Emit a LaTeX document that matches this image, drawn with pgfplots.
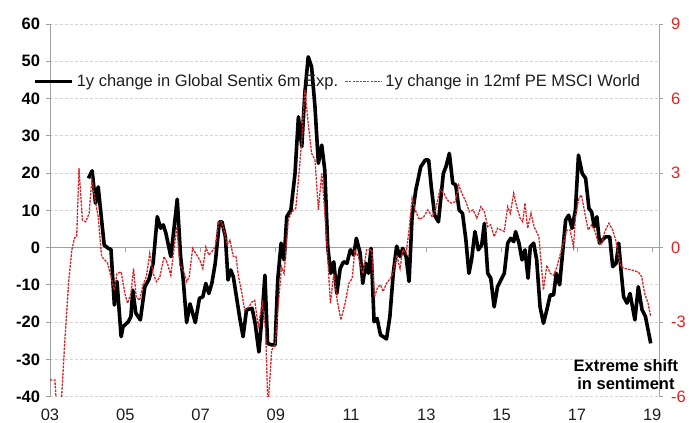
\documentclass[border=0pt]{standalone}
\usepackage{fontspec}
\setmainfont{Liberation Sans}
\usepackage{pgfplots}
\pgfplotsset{compat=1.18}

\definecolor{axisgray}{RGB}{160,160,160}
\definecolor{gridgray}{RGB}{212,212,212}
\definecolor{redline}{RGB}{214,36,40}
\definecolor{redlab}{RGB}{232,32,32}
\definecolor{txt}{RGB}{30,30,30}

\newcommand{\fs}{\fontsize{16.5}{19}\selectfont}

% 1y change in Global Sentix 6m Exp. (left axis)
\pgfplotstableread{
x y
2004.02 18.6
2004.12 20.6
2004.21 11.9
2004.28 16.3
2004.44 0.7
2004.55 -0.2
2004.62 -0.5
2004.71 -15.4
2004.78 -9.1
2004.89 -23.9
2004.94 -21.2
2005.08 -19.9
2005.15 -18.5
2005.20 -11.4
2005.28 -17.6
2005.40 -19.4
2005.52 -10.5
2005.63 -8.5
2005.74 -4.2
2005.85 8.3
2005.94 5.2
2006.01 6.1
2006.08 3.8
2006.21 -2.4
2006.29 4.7
2006.38 13.0
2006.47 -2.4
2006.54 -8.7
2006.63 -20.1
2006.72 -15.1
2006.86 -20.1
2006.97 -13.6
2007.06 -13.2
2007.14 -9.6
2007.22 -12.3
2007.30 -9.6
2007.39 -4.2
2007.50 6.9
2007.57 6.9
2007.66 2.9
2007.73 -8.7
2007.80 -6.0
2007.87 -7.8
2008.05 -19.4
2008.13 -23.9
2008.22 -16.7
2008.37 -16.3
2008.45 -20.3
2008.55 -28.0
2008.64 -17.6
2008.71 -7.4
2008.78 -25.7
2008.89 -26.1
2008.98 -26.1
2009.05 -8.7
2009.14 1.2
2009.22 -3.3
2009.29 8.3
2009.40 10.1
2009.51 19.9
2009.60 35.1
2009.69 27.1
2009.77 41.4
2009.86 51.2
2009.95 48.5
2010.04 37.8
2010.13 22.6
2010.22 27.5
2010.30 20.8
2010.38 0.2
2010.46 -6.9
2010.54 -3.8
2010.62 -12.3
2010.71 -5.6
2010.80 -3.8
2010.89 -4.2
2010.98 -0.6
2011.07 -2.0
2011.14 2.5
2011.24 -1.5
2011.31 -9.6
2011.39 -4.2
2011.46 -6.9
2011.53 -0.2
2011.61 -19.9
2011.69 -19.0
2011.78 -23.4
2011.94 -24.5
2012.03 -18.5
2012.12 -6.9
2012.21 0.4
2012.30 -2.4
2012.37 -0.2
2012.46 -2.4
2012.54 -9.1
2012.62 8.3
2012.72 15.5
2012.85 21.7
2012.97 23.5
2013.06 23.5
2013.13 16.3
2013.22 8.7
2013.32 6.9
2013.45 19.9
2013.52 21.7
2013.61 25.3
2013.70 17.3
2013.78 16.8
2013.87 10.1
2013.96 9.2
2014.05 2.0
2014.13 -6.9
2014.20 -3.3
2014.29 4.3
2014.38 -0.6
2014.47 0.7
2014.54 6.5
2014.63 -6.9
2014.71 -8.2
2014.80 -15.9
2014.89 -10.5
2014.98 -8.7
2015.07 -6.9
2015.16 1.2
2015.24 2.5
2015.32 1.6
2015.37 4.3
2015.46 1.2
2015.54 -3.3
2015.62 -0.6
2015.70 -8.2
2015.76 0.2
2015.85 1.2
2015.93 -3.3
2016.02 -15.9
2016.11 -20.3
2016.20 -16.7
2016.29 -12.7
2016.38 -12.7
2016.45 -6.9
2016.54 -10.0
2016.63 -0.2
2016.70 7.4
2016.78 8.7
2016.87 5.2
2016.96 10.1
2017.04 24.8
2017.14 19.9
2017.23 18.6
2017.32 10.5
2017.39 9.6
2017.46 5.6
2017.53 8.3
2017.60 1.2
2017.67 2.0
2017.76 2.9
2017.87 2.9
2017.95 -5.1
2018.04 -4.2
2018.11 1.2
2018.17 -6.0
2018.24 -13.2
2018.33 -14.9
2018.41 -12.3
2018.54 -19.4
2018.63 -10.5
2018.73 -16.7
2018.82 -18.5
2018.96 -25.7
}\sentix

% 1y change in 12mf PE MSCI World (right axis)
\pgfplotstableread{
x y
2003.00 -5.33
2003.13 -5.33
2003.18 -6.5
2003.29 -6.5
2003.40 -3.59
2003.50 -1.31
2003.58 -0.09
2003.65 0.38
2003.71 0.47
2003.77 3.20
2003.86 1.11
2003.95 1.04
2004.04 1.38
2004.11 2.72
2004.20 1.92
2004.28 1.25
2004.37 -0.36
2004.46 -0.50
2004.53 -0.63
2004.62 -1.17
2004.71 -1.71
2004.78 -1.04
2004.89 -0.98
2004.99 -1.85
2005.06 -2.24
2005.15 -1.85
2005.22 -0.84
2005.29 -1.98
2005.38 -2.12
2005.47 -1.50
2005.56 -1.17
2005.65 -0.23
2005.74 -1.04
2005.83 -1.37
2005.92 -1.17
2006.03 -0.36
2006.12 -0.63
2006.21 -1.11
2006.29 -0.09
2006.37 0.84
2006.45 -0.71
2006.54 -0.90
2006.63 -1.37
2006.70 -1.17
2006.79 -0.03
2006.90 -0.30
2006.98 -0.50
2007.06 -0.84
2007.14 0.03
2007.22 -0.30
2007.30 -0.17
2007.39 0.03
2007.48 1.04
2007.55 1.04
2007.62 0.71
2007.71 0.11
2007.78 0.30
2007.87 -0.36
2007.94 -0.35
2008.01 -1.17
2008.10 -1.85
2008.17 -2.51
2008.28 -2.39
2008.37 -2.18
2008.44 -2.12
2008.53 -3.18
2008.64 -2.24
2008.73 -3.32
2008.79 -6.5
2008.89 -4.13
2008.98 -3.92
2009.06 -2.39
2009.15 -0.77
2009.22 -1.04
2009.33 1.11
2009.42 1.44
2009.53 1.58
2009.60 2.72
2009.69 4.34
2009.77 6.35
2009.86 5.01
2009.95 3.80
2010.04 3.53
2010.13 1.52
2010.22 2.99
2010.29 1.65
2010.36 0.03
2010.45 -2.24
2010.54 -1.04
2010.63 -2.12
2010.73 -2.91
2010.84 -2.24
2010.94 -1.44
2011.03 -1.23
2011.10 -0.09
2011.19 -0.36
2011.28 -0.90
2011.32 -1.04
2011.41 -0.09
2011.55 -0.09
2011.62 -1.98
2011.71 -1.58
2011.78 -1.50
2011.85 -1.77
2011.94 -1.44
2012.05 -1.23
2012.12 -0.98
2012.21 -0.30
2012.30 -0.84
2012.37 -0.09
2012.46 -0.23
2012.54 0.71
2012.62 1.98
2012.70 1.52
2012.81 1.14
2012.92 1.22
2013.04 1.52
2013.15 1.25
2013.23 1.44
2013.36 2.33
2013.47 2.19
2013.55 1.92
2013.66 1.79
2013.77 1.85
2013.86 2.52
2013.94 2.19
2014.05 1.85
2014.14 1.44
2014.24 1.52
2014.34 1.19
2014.45 1.65
2014.54 1.44
2014.63 0.84
2014.71 0.92
2014.80 0.44
2014.89 0.78
2014.98 0.71
2015.07 0.65
2015.16 1.65
2015.23 1.38
2015.32 2.19
2015.40 1.65
2015.49 1.19
2015.56 1.04
2015.62 1.79
2015.69 0.78
2015.78 1.38
2015.86 0.84
2015.99 0.44
2016.11 -1.71
2016.20 -0.71
2016.29 -1.04
2016.38 -1.11
2016.47 -0.77
2016.55 -0.30
2016.64 0.18
2016.73 0.71
2016.82 0.71
2016.91 0.03
2016.96 1.25
2017.05 1.98
2017.12 2.12
2017.21 1.38
2017.30 0.71
2017.39 0.92
2017.48 0.65
2017.56 0.24
2017.65 0.11
2017.74 0.65
2017.85 0.98
2017.95 0.71
2018.03 0.30
2018.09 -0.23
2018.17 -0.77
2018.27 -0.84
2018.45 -0.90
2018.63 -0.98
2018.72 -1.17
2018.80 -1.85
2018.89 -2.24
2018.96 -2.78
}\msci

\pgfplotsset{
  base/.style={
    at={(0,0)}, anchor=south west,
    scale only axis, width=609pt, height=372.7pt,
    xmin=2003, xmax=2019.18,
    /pgf/number format/assume math mode=true,
    tick align=outside, major tick length=4.5pt,
    clip mode=individual,
  },
}

\begin{document}
\begin{tikzpicture}
% left axis: Sentix
\begin{axis}[base,
    name=ax,
    ymin=-40, ymax=60,
    axis y line*=left, axis x line*=bottom,
    x axis line style={draw=none},
    y axis line style={draw=axisgray, line width=0.8pt},
    xtick={2003,2005,...,2019},
    xticklabels={03,05,07,09,11,13,15,17,19},
    major x tick style={draw=none},
    xticklabel style={font=\fs, text=txt, yshift=-4pt},
    ytick={-40,-30,...,60},
    major y tick style={draw=axisgray, line width=0.8pt},
    yticklabel style={font=\fs\bfseries, text=black, xshift=-2pt},
    ymajorgrids,
    major grid style={draw=gridgray, dash pattern=on 3pt off 2pt, line width=0.8pt},
]
\draw[axisgray, line width=0.8pt] (rel axis cs:0,0.4) -- (rel axis cs:1,0.4);
\pgfplotsinvokeforeach{2005,2007,2009,2011,2013,2015,2017,2019}{
  \draw[axisgray, line width=0.8pt] (axis cs:#1,0) -- ++(0pt,-4.5pt);
}
\addplot[black, line width=3.6pt, line join=round] table[x=x,y=y] {\sentix};
\end{axis}

% right axis: MSCI World 12mf PE
\begin{axis}[base,
    ymin=-6, ymax=9,
    axis y line*=right, axis x line=none,
    y axis line style={draw=axisgray, line width=0.8pt},
    ytick={-6,-3,...,9},
    major y tick style={draw=axisgray, line width=0.8pt},
    yticklabel style={font=\fs, text=redlab, xshift=4pt},
    legend columns=2,
    legend style={draw=none, fill=none, font=\fs, text=txt,
      at={(axis description cs:-0.0271,0.8457)}, anchor=west,
      inner sep=0pt, nodes={inner sep=2.5pt},
      /tikz/every even column/.append style={column sep=4pt}},
    legend image code/.code={\draw[#1] (0pt,0pt) -- (37pt,0pt);},
]
\addlegendimage{black, line width=3.6pt}
\addlegendentry{1y change in Global Sentix 6m Exp.}
\addplot[redline, line width=1.3pt, dash pattern=on 2.5pt off 1.1pt] table[x=x,y=y] {\msci};
\addlegendentry{1y change in 12mf PE MSCI World}
\node[font=\fs\bfseries, align=center, text=black, inner sep=0pt]
  at (axis description cs:0.9458,0.058) {Extreme shift\\[-1pt]in sentiment};
\end{axis}

\pgfresetboundingbox
\path (ax.south west) ++(-50pt,-26.3pt) rectangle ++(689pt,423pt);
\end{tikzpicture}
\end{document}
